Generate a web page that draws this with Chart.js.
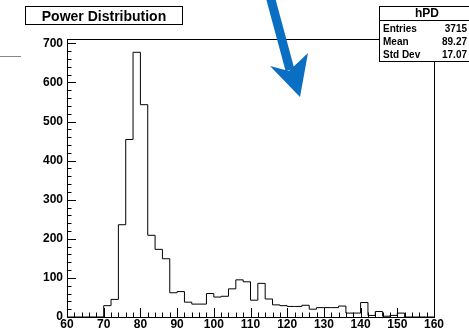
<!DOCTYPE html>
<html lang="en">
<head>
<meta charset="UTF-8">
<title>Power Distribution</title>
<script src="https://cdn.jsdelivr.net/npm/chart.js"></script>
<style>
    body {
        margin: 0;
        padding: 0;
        background-color: #ffffff;
    }
    #hist {
        display: block;
    }
</style>
</head>
<body>
<canvas id="hist" width="469" height="333"></canvas>
<script>
    // histogram bins (low edges, width 2) and counts
    const binLow = [60, 62, 64, 66, 68, 70, 72, 74, 76, 78,
                    80, 82, 84, 86, 88, 90, 92, 94, 96, 98,
                    100, 102, 104, 106, 108, 110, 112, 114, 116, 118,
                    120, 122, 124, 126, 128, 130, 132, 134, 136, 138,
                    140, 142, 144, 146, 148, 150, 152, 154, 156, 158];
    const counts = [0, 0, 0, 0, 0, 29, 45, 236, 454, 677,
                    543, 209, 173, 149, 62, 65, 38, 33, 33, 60,
                    51, 53, 72, 95, 90, 43, 86, 46, 31, 29,
                    27, 27, 30, 20, 24, 24, 24, 28, 10, 10,
                    37, 4, 14, 2, 4, 10, 0, 0, 0, 0];
    const xMin = 60, xMax = 160;
    const yMax = 711;
    const xTickLabels = [60, 70, 80, 90, 100, 110, 120, 130, 140, 150, 160];
    const yTickLabels = [0, 100, 200, 300, 400, 500, 600, 700];
    const histTitle = 'Power Distribution';
    const statsName = 'hPD';
    const statsRows = [['Entries', '3715'], ['Mean', '89.27'], ['Std Dev', '17.07']];

    const points = binLow.map((x, i) => ({ x: x, y: counts[i] }));
    points.push({ x: xMax, y: counts[counts.length - 1] });

    const boldFont = '"Liberation Sans", Arial, sans-serif';

    // frame, inward ticks, title box, stats box and arrow
    const rootStyle = {
        id: 'rootStyle',
        afterDraw(chart) {
            const ctx = chart.ctx;
            const a = chart.chartArea;
            const xs = chart.scales.x, ys = chart.scales.y;
            ctx.save();
            ctx.strokeStyle = '#000';
            ctx.lineWidth = 1;
            ctx.strokeRect(Math.round(a.left) + 0.5, Math.round(a.top) + 0.5,
                Math.round(a.right - a.left), Math.round(a.bottom - a.top));

            ctx.beginPath();
            for (let v = xMin; v <= xMax; v += 2) {
                const px = Math.round(xs.getPixelForValue(v)) + 0.5;
                const len = (v % 10 === 0) ? 9 : 4.5;
                ctx.moveTo(px, a.bottom);
                ctx.lineTo(px, a.bottom - len);
            }
            for (let v = 0; v <= 700; v += 20) {
                const py = Math.round(ys.getPixelForValue(v)) + 0.5;
                const len = (v % 100 === 0) ? 9 : 4.5;
                ctx.moveTo(a.left, py);
                ctx.lineTo(a.left + len, py);
            }
            ctx.stroke();

            // title box
            ctx.fillStyle = '#fff';
            ctx.fillRect(25.5, 6.5, 157, 18);
            ctx.strokeRect(25.5, 6.5, 157, 18);
            ctx.fillStyle = '#000';
            ctx.font = 'bold 14px ' + boldFont;
            ctx.textAlign = 'center';
            ctx.textBaseline = 'alphabetic';
            ctx.fillText(histTitle, 104, 20.5);

            // stats box
            ctx.fillStyle = '#fff';
            ctx.fillRect(379.5, 6.5, 96, 55);
            ctx.strokeRect(379.5, 6.5, 96, 55);
            ctx.beginPath();
            ctx.moveTo(379.5, 20.5);
            ctx.lineTo(475, 20.5);
            ctx.stroke();
            ctx.fillStyle = '#000';
            ctx.font = 'bold 12px ' + boldFont;
            ctx.fillText(statsName, 427, 17);
            ctx.font = 'bold 10px ' + boldFont;
            statsRows.forEach((r, i) => {
                const by = 31.5 + i * 13.3;
                ctx.textAlign = 'left';
                ctx.fillText(r[0], 383, by);
                ctx.textAlign = 'right';
                ctx.fillText(r[1], 467, by);
            });

            // gray stub at left
            ctx.strokeStyle = '#888';
            ctx.beginPath();
            ctx.moveTo(0, 56.5);
            ctx.lineTo(21, 56.5);
            ctx.stroke();

            // blue arrow annotation
            ctx.strokeStyle = '#0a6fc2';
            ctx.fillStyle = '#0a6fc2';
            ctx.lineWidth = 9;
            ctx.beginPath();
            ctx.moveTo(270, -4);
            ctx.lineTo(290, 70);
            ctx.stroke();
            ctx.beginPath();
            ctx.moveTo(300, 97);
            ctx.lineTo(270, 66);
            ctx.lineTo(289, 71);
            ctx.lineTo(308, 53);
            ctx.closePath();
            ctx.fill();
            ctx.restore();
        }
    };

    const ctx = document.getElementById('hist').getContext('2d');
    const chart = new Chart(ctx, {
        type: 'line',
        data: {
            datasets: [{
                data: points,
                stepped: 'before',
                borderColor: '#000',
                borderWidth: 1,
                pointRadius: 0,
                fill: false,
            }],
        },
        options: {
            responsive: false,
            animation: false,
            layout: {
                padding: { left: 0, right: 35, top: 39, bottom: 0 },
            },
            plugins: {
                legend: { display: false },
                tooltip: { enabled: false },
            },
            scales: {
                x: {
                    type: 'linear',
                    min: xMin,
                    max: xMax,
                    grid: { display: false, drawTicks: false },
                    border: { display: false },
                    afterBuildTicks: (s) => { s.ticks = xTickLabels.map(v => ({ value: v })); },
                    afterFit: (s) => { s.height = 16; },
                    ticks: {
                        padding: 0,
                        maxRotation: 0,
                        autoSkip: false,
                        color: '#000',
                        font: { family: boldFont, size: 12, weight: 'bold' },
                    },
                },
                y: {
                    min: 0,
                    max: yMax,
                    grid: { display: false, drawTicks: false },
                    border: { display: false },
                    afterBuildTicks: (s) => { s.ticks = yTickLabels.map(v => ({ value: v })); },
                    afterFit: (s) => { s.width = 67; },
                    ticks: {
                        padding: 4,
                        autoSkip: false,
                        color: '#000',
                        font: { family: boldFont, size: 12, weight: 'bold' },
                    },
                },
            },
        },
        plugins: [rootStyle],
    });
</script>
</body>
</html>
